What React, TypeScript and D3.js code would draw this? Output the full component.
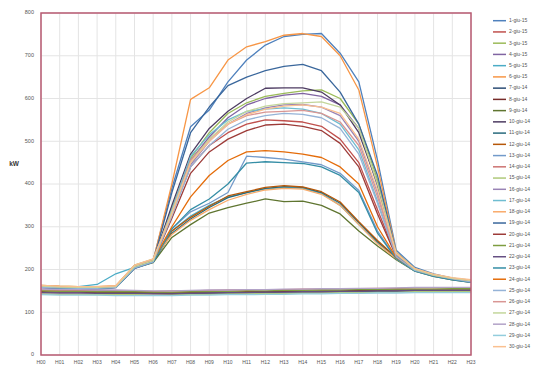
import React, { useEffect, useRef } from "react";
import * as d3 from "d3";

const hours = d3.range(24).map((h) => "H" + String(h).padStart(2, "0"));

const dayLabels = [
  "1-giu-15", "2-giu-15", "3-giu-15", "4-giu-15", "5-giu-15", "6-giu-15",
  "7-giu-14", "8-giu-14", "9-giu-14", "10-giu-14", "11-giu-14", "12-giu-14",
  "13-giu-14", "14-giu-14", "15-giu-14", "16-giu-14", "17-giu-14", "18-giu-14",
  "19-giu-14", "20-giu-14", "21-giu-14", "22-giu-14", "23-giu-14", "24-giu-14",
  "25-giu-14", "26-giu-14", "27-giu-14", "28-giu-14", "29-giu-14", "30-giu-14",
];

// kW per hour, one array per day
const d01 = [162,160,159,159,160,208,222,390,534,573,639,690,725,745,750,752,706,639,456,245,205,190,180,174];
const d02 = [161,159,158,158,160,207,221,330,440,490,520,540,550,548,545,535,505,450,340,232,200,187,179,174];
const d03 = [163,161,160,160,161,210,224,345,460,520,565,590,605,612,618,620,600,540,410,240,202,188,180,175];
const d04 = [159,157,156,156,158,204,219,340,455,510,555,585,600,608,612,605,585,530,395,236,199,186,177,172];
const d05 = [160,160,160,165,190,205,218,290,325,350,370,380,388,392,390,378,350,305,262,226,197,185,178,172];
const d06 = [160,158,157,157,158,205,220,400,598,625,690,721,733,748,752,745,700,620,440,240,200,185,177,172];
const d07 = [158,156,154,152,150,147,145,144,144,145,145,146,146,147,147,148,148,148,149,149,150,150,150,150];
const d08 = [148,147,147,146,146,146,145,145,146,146,147,148,148,149,149,150,150,151,151,152,152,152,152,152];
const d09 = [158,157,156,156,158,203,216,275,305,332,345,355,365,359,360,350,330,290,255,223,196,184,176,170];
const d10 = [160,158,157,157,159,206,220,350,470,530,570,600,624,625,625,615,585,520,400,235,198,186,178,171];
const d11 = [159,158,157,157,159,204,218,285,318,345,368,380,390,394,392,380,355,310,265,228,198,186,177,171];
const d12 = [161,160,159,159,160,206,220,290,322,348,372,382,392,396,393,382,358,312,268,228,199,186,178,173];
const d13 = [160,158,157,157,159,205,219,295,335,355,380,465,462,458,452,445,425,385,290,226,197,185,177,171];
const d14 = [152,151,151,150,150,150,149,150,150,151,152,152,153,153,154,154,155,155,156,156,157,157,157,157];
const d15 = [143,142,142,141,141,141,140,141,141,142,143,143,144,144,145,145,146,146,147,147,148,148,148,148];
const d16 = [157,156,155,155,157,202,217,330,445,500,540,565,578,585,586,580,560,500,380,234,198,185,177,170];
const d17 = [160,158,157,157,159,205,220,340,465,515,550,570,575,578,575,565,540,480,360,232,199,186,178,172];
const d18 = [163,161,160,160,162,209,223,282,315,340,362,376,386,390,388,376,350,305,260,225,197,185,177,172];
const d19 = [158,157,156,156,158,203,218,380,520,580,630,650,665,675,680,665,615,540,420,238,200,188,178,172];
const d20 = [159,158,157,157,159,205,219,320,425,475,505,525,538,540,535,525,495,440,330,230,198,185,177,172];
const d21 = [150,149,149,148,148,148,147,147,148,148,149,150,150,151,151,152,152,153,153,154,154,154,155,155];
const d22 = [146,145,145,144,144,144,143,143,144,145,146,146,147,147,148,148,149,149,150,150,151,151,151,151];
const d23 = [158,157,156,156,158,203,217,295,340,365,400,449,452,450,448,440,420,380,285,225,196,184,176,170];
const d24 = [162,160,159,159,161,208,222,300,370,420,455,475,478,475,470,462,440,400,300,228,200,187,179,174];
const d25 = [158,157,156,156,158,204,218,325,440,490,528,550,560,565,563,555,530,470,355,230,198,186,178,171];
const d26 = [162,160,159,159,161,209,223,335,455,505,540,560,568,570,572,565,545,490,370,236,201,187,179,174];
const d27 = [161,159,158,158,160,207,221,335,450,505,545,570,582,588,590,592,580,530,400,238,200,187,179,174];
const d28 = [154,153,153,152,152,151,150,150,151,152,152,153,153,154,154,155,155,156,156,157,158,158,158,158];
const d29 = [141,140,140,140,139,139,139,139,140,140,141,141,142,142,143,143,144,144,145,145,146,146,146,146];
const d30 = [163,161,160,160,162,210,225,330,450,500,540,562,575,582,585,580,565,505,385,238,202,189,181,176];

const seriesValues = [
  d01, d02, d03, d04, d05, d06, d07, d08, d09, d10, d11, d12, d13, d14, d15,
  d16, d17, d18, d19, d20, d21, d22, d23, d24, d25, d26, d27, d28, d29, d30,
];

const yTicks = [0, 100, 200, 300, 400, 500, 600, 700, 800];

const palette = [
  "#4F81BD", "#C0504D", "#9BBB59", "#8064A2", "#4BACC6", "#F79646",
  "#2C4D75", "#772C2A", "#5F7530", "#4D3B62", "#276A7C", "#B65708",
  "#729ACA", "#CD7371", "#AFC97A", "#9983B5", "#6FBDD1", "#F9AB6B",
  "#3A679C", "#9D3B38", "#7E9D40", "#664F83", "#358EA6", "#E46C0A",
  "#95B3D7", "#D99694", "#C3D69B", "#B2A2C7", "#93CDDD", "#FAC090",
];

const App = () => {
  const svgRef = useRef<SVGSVGElement>(null);

  useEffect(() => {
    const svg = d3.select(svgRef.current);
    svg.selectAll("*").remove();

    const width = 540;
    const height = 374;
    const plot = { left: 41, right: 471, top: 13, bottom: 355 };
    const font = "Liberation Sans, Arial, sans-serif";

    const x = d3.scalePoint<string>().domain(hours).range([plot.left, plot.right]);
    const y = d3.scaleLinear().domain([0, 800]).range([plot.bottom, plot.top]);

    svg.attr("width", width).attr("height", height);

    // grid
    svg.append("g")
      .selectAll("line")
      .data(hours)
      .enter()
      .append("line")
      .attr("x1", (d) => x(d)!)
      .attr("x2", (d) => x(d)!)
      .attr("y1", plot.top)
      .attr("y2", plot.bottom)
      .attr("stroke", "#e4e4e4")
      .attr("stroke-width", 1);

    svg.append("g")
      .selectAll("line")
      .data(yTicks)
      .enter()
      .append("line")
      .attr("x1", plot.left)
      .attr("x2", plot.right)
      .attr("y1", (d) => y(d))
      .attr("y2", (d) => y(d))
      .attr("stroke", "#e4e4e4")
      .attr("stroke-width", 1);

    // lines
    const line = d3.line<number>()
      .x((_, i) => x(hours[i])!)
      .y((d) => y(d));

    svg.append("g")
      .selectAll("path")
      .data(seriesValues)
      .enter()
      .append("path")
      .attr("d", (d) => line(d))
      .attr("fill", "none")
      .attr("stroke", (_, i) => palette[i])
      .attr("stroke-width", 1.3)
      .attr("stroke-linejoin", "round");

    // plot border
    svg.append("rect")
      .attr("x", plot.left)
      .attr("y", plot.top)
      .attr("width", plot.right - plot.left)
      .attr("height", plot.bottom - plot.top)
      .attr("fill", "none")
      .attr("stroke", "#b85a72")
      .attr("stroke-width", 1.5);

    // y labels
    svg.append("g")
      .selectAll("text")
      .data(yTicks)
      .enter()
      .append("text")
      .attr("x", plot.left - 7)
      .attr("y", (d) => y(d))
      .attr("text-anchor", "end")
      .attr("dominant-baseline", "middle")
      .attr("font-family", font)
      .attr("font-size", 5.5)
      .attr("fill", "#555")
      .text((d) => d);

    svg.append("text")
      .attr("x", 14)
      .attr("y", 164)
      .attr("text-anchor", "middle")
      .attr("dominant-baseline", "middle")
      .attr("font-family", font)
      .attr("font-size", 6.5)
      .attr("font-weight", "bold")
      .attr("fill", "#333")
      .text("kW");

    // x labels
    svg.append("g")
      .selectAll("text")
      .data(hours)
      .enter()
      .append("text")
      .attr("x", (d) => x(d)!)
      .attr("y", 363)
      .attr("text-anchor", "middle")
      .attr("dominant-baseline", "middle")
      .attr("font-family", font)
      .attr("font-size", 5)
      .attr("fill", "#555")
      .text((d) => d);

    // legend
    const legend = svg.append("g")
      .selectAll("g")
      .data(dayLabels)
      .enter()
      .append("g")
      .attr("transform", (_, i) => `translate(493, ${20.7 + i * 11.24})`);

    legend.append("line")
      .attr("x1", 0)
      .attr("x2", 13)
      .attr("stroke", (_, i) => palette[i])
      .attr("stroke-width", 1.5);

    legend.append("text")
      .attr("x", 16)
      .attr("dominant-baseline", "middle")
      .attr("font-family", font)
      .attr("font-size", 5)
      .attr("fill", "#555")
      .text((d) => d);
  }, []);

  return <svg ref={svgRef} style={{ position: "absolute", left: 0, top: 0 }} />;
};

export default App;
